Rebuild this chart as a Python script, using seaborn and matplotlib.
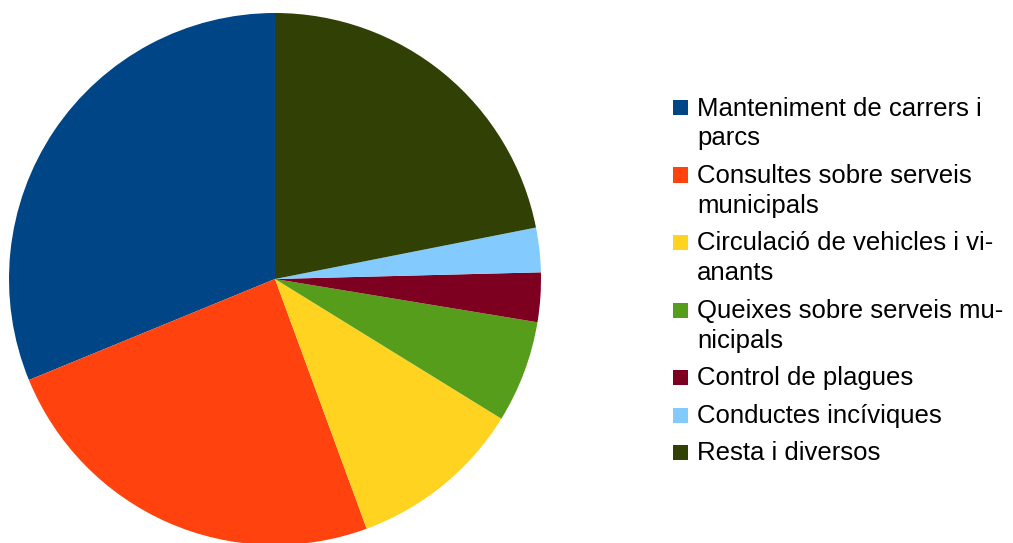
import matplotlib
matplotlib.use("Agg")
import matplotlib.pyplot as plt
import seaborn as sns
from matplotlib.patches import Rectangle

# dades
categories = [
    "Manteniment de carrers i\nparcs",
    "Consultes sobre serveis\nmunicipals",
    "Circulació de vehicles i vi-\nanants",
    "Queixes sobre serveis mu-\nnicipals",
    "Control de plagues",
    "Conductes incíviques",
    "Resta i diversos",
]
values = [31.2, 24.4, 10.6, 6.2, 3.0, 2.7, 21.9]
colors = ["#004586", "#ff420e", "#ffd320", "#579d1c", "#7e0021", "#83caff", "#314004"]

W, H = 1013, 543
sns.set_style("white")
plt.rcParams["font.family"] = ["Liberation Sans", "DejaVu Sans"]

fig = plt.figure(figsize=(W / 100, H / 100), dpi=100)

# pastis
cx, cy, r = 275, 279, 266
ax = fig.add_axes([(cx - r) / W, (H - cy - r) / H, 2 * r / W, 2 * r / H])
ax.pie(values, colors=colors, startangle=90, counterclock=True, radius=1,
       wedgeprops=dict(linewidth=0))
ax.set_xlim(-1, 1)
ax.set_ylim(-1, 1)
ax.set_aspect("equal")
ax.axis("off")

# llegenda
y = 107
for label, col in zip(categories, colors):
    fig.patches.append(Rectangle((673 / W, (H - y - 8) / H), 15 / W, 15 / H,
                                 transform=fig.transFigure, facecolor=col,
                                 edgecolor="none"))
    for line in label.split("\n"):
        fig.text(697 / W, (H - y - 8.5) / H, line, fontsize=18.5,
                 va="baseline", ha="left", color="#000000")
        y += 30
    y += 7.5

fig.savefig("out.png", dpi=100)
